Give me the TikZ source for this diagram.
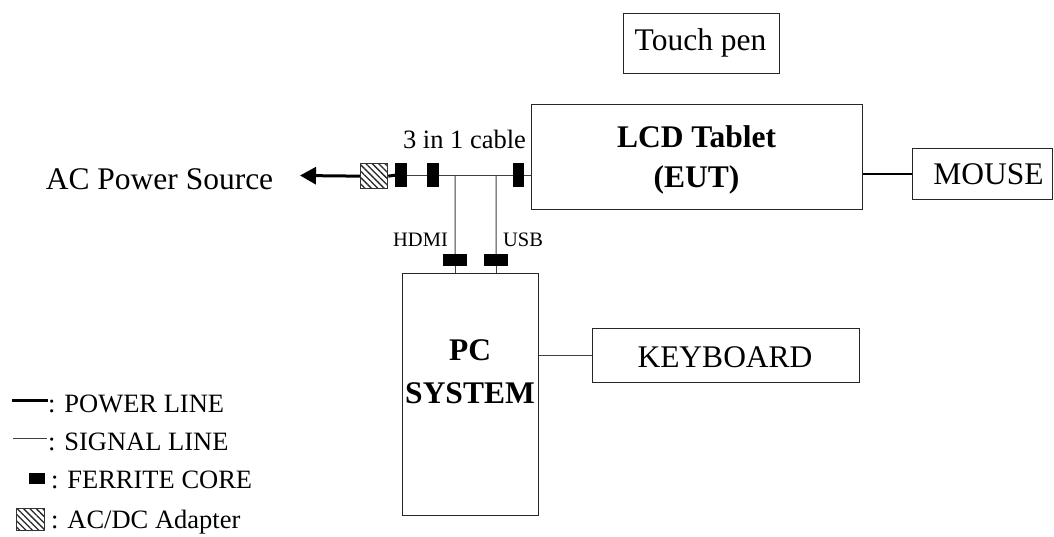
\documentclass[tikz,border=0pt]{standalone}
\usepackage{fontspec}
\setmainfont{Liberation Serif}
\usetikzlibrary{arrows.meta,patterns.meta}
\begin{document}
\begin{tikzpicture}[x=1pt,y=-1pt,
  box/.style={draw=black!85, line width=1.3pt, inner sep=0pt, anchor=north west},
  fcore/.style={fill=black, draw=none, inner sep=0pt, anchor=north west},
  adapterbox/.style={draw=black!80, line width=0.8pt, inner sep=0pt, anchor=north west,
    pattern={Lines[angle=-45,distance=4.5pt,line width=1.3pt]}, pattern color=black!85},
  sig/.style={draw=black!75, line width=1pt},
  pwr/.style={draw=black, line width=3pt},
  big/.style={font=\fontsize{31.5}{36}\selectfont, anchor=base, inner sep=0pt},
  bigb/.style={font=\fontsize{31.5}{36}\selectfont\bfseries, anchor=base, inner sep=0pt},
  mid/.style={font=\fontsize{26.5}{30}\selectfont, anchor=base, inner sep=0pt},
  small/.style={font=\fontsize{20.5}{24}\selectfont, anchor=base, inner sep=0pt},
  leg/.style={font=\fontsize{26.5}{30}\selectfont, anchor=base west, inner sep=0pt}
]
\useasboundingbox (0,0) rectangle (1054,536);

% boxes
\node[box, minimum width=156pt, minimum height=60pt] (touch) at (623,13) {};
\node[big] (touchT) at (700.5,50) {Touch pen};

\node[box, minimum width=331pt, minimum height=105pt] (lcd) at (531,104) {};
\node[bigb] (lcdT1) at (696.5,147) {LCD Tablet};
\node[bigb] (lcdT2) at (696.5,187) {(EUT)};

\node[box, minimum width=140pt, minimum height=51pt] (mouse) at (912,148) {};
\node[big] (mouseT) at (988.5,184) {MOUSE};

\node[box, minimum width=136pt, minimum height=242pt] (pc) at (402,273) {};
\node[bigb] (pcT1) at (470,360) {PC};
\node[bigb] (pcT2) at (470,403) {SYSTEM};

\node[box, minimum width=267pt, minimum height=54pt] (kb) at (592,328) {};
\node[big] (kbT) at (725,367) {KEYBOARD};

% adapter and ferrite cores
\node[adapterbox, minimum width=27pt, minimum height=25pt] (adp) at (360,163) {};
\node[fcore, minimum width=12pt, minimum height=24pt] (f1) at (395,163) {};
\node[fcore, minimum width=12pt, minimum height=24pt] (f2) at (427,163) {};
\node[fcore, minimum width=11pt, minimum height=24pt] (f3) at (513,163) {};
\node[fcore, minimum width=24pt, minimum height=12pt] (hf) at (443,254) {};
\node[fcore, minimum width=24pt, minimum height=12pt] (uf) at (484,254) {};

\coordinate (tip) at (300,175.5);
\coordinate (jh) at (455,175);
\coordinate (ju) at (496,175);

% connectors
\draw[pwr, -{Triangle[length=16pt 0 0,width=17pt 0 0]}] (adp.west) -- (tip);
\draw[pwr] (adp.east) -- (f1.west);
\draw[sig] (f1.east) -- (f2.west);
\draw[sig] (f2.east) -- (f3.west);
\draw[sig] (f3.east) -- (f3.east -| lcd.west);
\draw[sig] (jh) -- (hf.north);
\draw[sig] (ju) -- (uf.north);
\draw[sig] (hf.south) -- (hf.south |- pc.north);
\draw[sig] (uf.south) -- (uf.south |- pc.north);
\draw[sig] (kb.west -| pc.east) -- (kb.west);
\draw[black, line width=1.6pt] (mouse.west -| lcd.east) -- (mouse.west);

% labels
\node[big] (acT) at (159.5,189) {AC Power Source};
\node[mid] (cableT) at (464.5,148) {3 in 1 cable};
\node[small] (hdmiT) at (420.5,246) {HDMI};
\node[small] (usbT) at (523,246) {USB};

% legend
\coordinate (lp1) at (12,400);
\coordinate (lp2) at (48,400);
\draw[pwr] (lp1) -- (lp2);
\coordinate (ls1) at (13,438);
\coordinate (ls2) at (47,438);
\draw[sig] (ls1) -- (ls2);
\node[fcore, minimum width=16pt, minimum height=11pt] (lf) at (29,473) {};
\node[adapterbox, minimum width=28pt, minimum height=22pt] (la) at (16,508) {};
\node[leg] (legP) at (48,412) {: POWER LINE};
\node[leg] (legS) at (48,450) {: SIGNAL LINE};
\node[leg] (legF) at (51,488) {: FERRITE CORE};
\node[leg] (legA) at (51,528) {: AC/DC Adapter};
\end{tikzpicture}
\end{document}
